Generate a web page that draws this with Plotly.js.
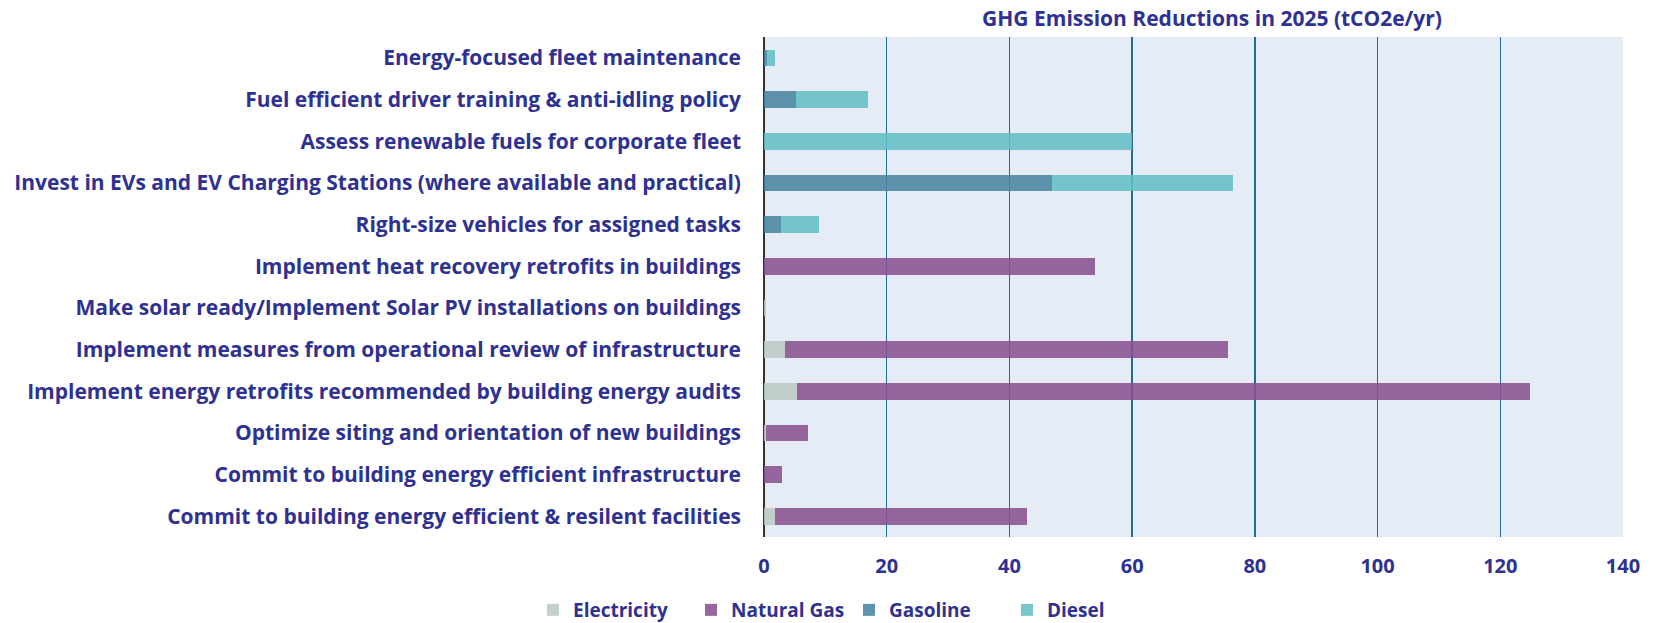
<!DOCTYPE html>
<html>
<head>
<meta charset="utf-8">
<script src="https://cdn.plot.ly/plotly-3.0.1.min.js"></script>
<style>html,body{margin:0;padding:0;background:#fff;}#chart{width:1653px;height:623px;}</style>
</head>
<body>
<div id="chart"></div>
<script>
// Categories listed bottom-to-top (Plotly category order for horizontal bars)
const categories = [
  "Commit to building energy efficient & resilent facilities",
  "Commit to building energy efficient infrastructure",
  "Optimize siting and orientation of new buildings",
  "Implement energy retrofits recommended by building energy audits",
  "Implement measures from operational review of infrastructure",
  "Make solar ready/Implement Solar PV installations on buildings",
  "Implement heat recovery retrofits in buildings",
  "Right-size vehicles for assigned tasks",
  "Invest in EVs and EV Charging Stations (where available and practical)",
  "Assess renewable fuels for corporate fleet",
  "Fuel efficient driver training & anti-idling policy",
  "Energy-focused fleet maintenance"
];
const electricity = [1.8, 0, 0.3, 5.4, 3.4, 0.4, 0, 0, 0, 0, 0, 0];
const naturalGas  = [41.0, 2.9, 6.9, 119.4, 72.3, 0, 54.0, 0, 0, 0, 0, 0];
const gasoline    = [0, 0, 0, 0, 0, 0, 0, 2.8, 47.0, 0, 5.2, 0.5];
const diesel      = [0, 0, 0, 0, 0, 0, 0, 6.2, 29.4, 60.0, 11.8, 1.3];
const xTicks = [0, 20, 40, 60, 80, 100, 120, 140];

const txt = '#2e3192';
const fontFam = '"Open Sans", "Noto Sans", sans-serif';

function tr(name, vals, color) {
  return {
    type: 'bar', orientation: 'h', name: name,
    y: categories, x: vals,
    marker: {color: color, line: {width: 0}},
    hoverinfo: 'x+name'
  };
}

const data = [
  tr('Electricity', electricity, 'rgba(188,201,194,0.87)'),
  tr('Natural Gas', naturalGas, 'rgba(134,80,143,0.87)'),
  tr('Gasoline', gasoline, 'rgba(71,131,161,0.87)'),
  tr('Diesel', diesel, 'rgba(99,190,198,0.87)')
];

const layout = {
  width: 1653, height: 623,
  margin: {l: 764, r: 30, t: 37, b: 86, pad: 0},
  barmode: 'stack',
  bargap: 0.6,
  paper_bgcolor: '#ffffff',
  plot_bgcolor: '#e6ecf5',
  font: {family: fontFam, color: txt},
  title: {
    text: 'GHG Emission Reductions in 2025 (tCO2e/yr)',
    font: {family: fontFam, size: 21, color: txt, weight: 'bold'},
    xref: 'container', x: 1212/1653, xanchor: 'center',
    yref: 'container', y: 1 - 19/623, yanchor: 'middle'
  },
  xaxis: {
    range: [0, 140],
    tickvals: xTicks,
    ticktext: xTicks.map(String),
    showgrid: true, gridcolor: '#1f6b99', gridwidth: 1.5,
    zeroline: true, zerolinecolor: '#333333', zerolinewidth: 1.5,
    showline: false,
    ticks: '',
    ticklabelstandoff: 15,
    tickfont: {family: fontFam, size: 20, color: txt, weight: 'bold'},
    fixedrange: true
  },
  yaxis: {
    type: 'category',
    categoryorder: 'array', categoryarray: categories,
    showgrid: false, zeroline: false, showline: false,
    ticks: '',
    ticklabelstandoff: 22,
    tickfont: {family: fontFam, size: 21, color: txt, weight: 'bold'},
    fixedrange: true
  },
  showlegend: true,
  legend: {
    orientation: 'h',
    xref: 'container', x: 849/1653, xanchor: 'center',
    yref: 'container', y: 1 - 610/623, yanchor: 'middle',
    traceorder: 'normal',
    entrywidth: 113, entrywidthmode: 'pixels',
    font: {family: fontFam, size: 19, color: txt, weight: 'bold'},
    bgcolor: 'rgba(0,0,0,0)'
  }
};

Plotly.newPlot('chart', data, layout, {displayModeBar: false, staticPlot: true});
</script>
</body>
</html>
